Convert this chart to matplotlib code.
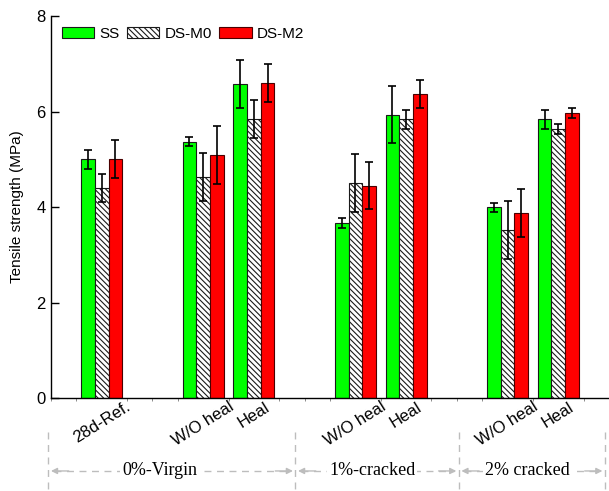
import numpy as np
import matplotlib
matplotlib.use("Agg")
import matplotlib.pyplot as plt
from matplotlib.ticker import MultipleLocator
from matplotlib.transforms import blended_transform_factory

# tensile strength, one entry per condition group
conditions = ["28d-Ref.", "W/O heal", "Heal", "W/O heal", "Heal", "W/O heal", "Heal"]
positions = [1, 3, 4, 6, 7, 9, 10]
ss_mean = [5.0, 5.37, 6.57, 3.66, 5.93, 3.99, 5.84]
ss_err = [0.2, 0.1, 0.5, 0.1, 0.6, 0.1, 0.2]
m0_mean = [4.40, 4.63, 5.84, 4.50, 5.84, 3.52, 5.63]
m0_err = [0.3, 0.5, 0.4, 0.6, 0.2, 0.6, 0.1]
m2_mean = [5.0, 5.09, 6.60, 4.45, 6.37, 3.87, 5.97]
m2_err = [0.4, 0.6, 0.4, 0.5, 0.3, 0.5, 0.1]

# bottom brackets: label, label centre and separator x positions (data units)
group_names = ["0%-Virgin", "1%-cracked", "2% cracked"]
group_label_x = [2.14, 6.33, 9.39]
group_edges = [-0.05, 4.82, 8.04, 10.92]

plt.rcParams['font.family'] = ['Liberation Sans', 'DejaVu Sans']
plt.rcParams['hatch.linewidth'] = 0.8

fig = plt.figure(figsize=(6.09, 4.91), dpi=100)
ax = fig.add_axes([0.0837, 0.1894, 0.9163, 0.778])

x = np.array(positions, dtype=float)
w = 0.27
err_kw = dict(ecolor='black', elinewidth=1.2, capsize=2.8, capthick=1.2)
ax.bar(x - w, ss_mean, w, yerr=ss_err, color='#00ff00', edgecolor='#1a1a1a',
       linewidth=0.8, label='SS', error_kw=err_kw)
ax.bar(x, m0_mean, w, yerr=m0_err, color='white', edgecolor='#1a1a1a',
       hatch='\\\\\\\\\\\\', linewidth=0.8, label='DS-M0', error_kw=err_kw)
ax.bar(x + w, m2_mean, w, yerr=m2_err, color='#ff0000', edgecolor='#4a0000',
       linewidth=0.8, label='DS-M2', error_kw=err_kw)

ax.set_xlim(0, 11)
ax.set_ylim(0, 8)
ax.set_yticks([0, 2, 4, 6, 8])
ax.tick_params(axis='y', direction='in', length=6, width=1, labelsize=12, pad=4)
ax.set_xticks(positions)
ax.set_xticklabels(conditions, rotation=32, fontsize=12)
ax.tick_params(axis='x', length=0, pad=1)
ax.xaxis.set_minor_locator(MultipleLocator(0.5))
ax.tick_params(axis='x', which='minor', direction='out', length=2, color='#777777')
ax.set_ylabel('Tensile strength (MPa)', fontsize=11, labelpad=9)

for side in ('top', 'right'):
    ax.spines[side].set_visible(False)
ax.spines['left'].set_linewidth(1)
ax.spines['bottom'].set_linewidth(1)

ax.legend(loc='upper left', bbox_to_anchor=(0.0, 1.0), ncol=3, frameon=False,
          fontsize=11, handlelength=2.1, handleheight=0.8, handletextpad=0.35,
          columnspacing=0.5, borderaxespad=0.3)

# group brackets under the tick labels
grey = '#bdbdbd'
tr = blended_transform_factory(ax.transData, ax.transAxes)
for xe in group_edges:
    ax.plot([xe, xe], [-0.09, -0.245], transform=tr, clip_on=False,
            color=grey, lw=1, linestyle=(0, (5, 4)))
ya = -0.191
for name, xc, x0, x1 in zip(group_names, group_label_x, group_edges[:-1], group_edges[1:]):
    ax.plot([x0 + 0.1, x1 - 0.1], [ya, ya], transform=tr, clip_on=False,
            color=grey, lw=1, linestyle=(0, (5, 4)))
    for tip, tail in ((x0 + 0.05, x0 + 0.4), (x1 - 0.05, x1 - 0.4)):
        ax.annotate('', xy=(tip, ya), xytext=(tail, ya), xycoords=tr, textcoords=tr,
                    annotation_clip=False,
                    arrowprops=dict(arrowstyle='-|>', color=grey, lw=1,
                                    mutation_scale=9, shrinkA=0, shrinkB=0))
    ax.text(xc, ya, name, transform=tr, ha='center', va='center',
            fontsize=13, family=['Liberation Serif', 'DejaVu Serif'],
            bbox=dict(facecolor='white', edgecolor='none', pad=1.5))

fig.savefig('out.png', dpi=100)
